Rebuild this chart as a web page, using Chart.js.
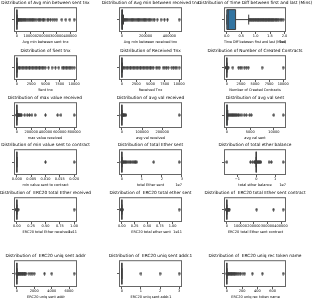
<!DOCTYPE html>
<html>
<head>
<meta charset="utf-8">
<script src="https://cdn.jsdelivr.net/npm/chart.js@4.4.1/dist/chart.umd.min.js"></script>
<style>
  html, body { margin: 0; padding: 0; background: #fff; overflow: hidden; }
  #page { position: relative; width: 312px; height: 301px; overflow: hidden; }
  #page canvas { position: absolute; }
</style>
</head>
<body>
<div id="page"></div>
<script>
// column names (title = "Distribution of " + name, x label = name)
const columns = [
  'Avg min between sent tnx', 'Avg min between received tnx', 'Time Diff between first and last (Mins)',
  'Sent tnx', 'Received Tnx', 'Number of Created Contracts',
  'max value received ', 'avg val received', 'avg val sent',
  'min value sent to contract', 'total Ether sent', 'total ether balance',
  ' ERC20 total Ether received', ' ERC20 total ether sent', ' ERC20 total Ether sent contract',
  ' ERC20 uniq sent addr', ' ERC20 uniq sent addr.1', ' ERC20 uniq rec token name'
];

// tick labels as printed, and the offset text printed next to the axis
const tickLabels = [
  ['0', '100000', '200000', '300000', '400000'], ['0', '200000', '400000'], ['0.0', '0.5', '1.0', '1.5', '2.0'],
  ['0', '2500', '5000', '7500', '10000'], ['0', '2500', '5000', '7500', '10000'], ['0', '2500', '5000', '7500', '10000'],
  ['0', '200000', '400000', '600000', '800000'], ['0', '100000', '200000'], ['0', '5000', '10000'],
  ['0.000', '0.005', '0.010', '0.015', '0.020'], ['0', '1', '2', '3'], ['\u22121', '0', '1'],
  ['0.00', '0.25', '0.50', '0.75', '1.00'], ['0.00', '0.25', '0.50', '0.75', '1.00'], ['0', '100000', '200000', '300000', '400000'],
  ['0', '2000', '4000', '6000'], ['0', '1', '2', '3'], ['0', '200', '400', '600']
];
const offsets = ['', '', '1e6', '', '', '', '', '', '', '', '1e7', '1e7', '1e11', '1e11', '', '', '', ''];

// [lower whisker, q1, median, q3, upper whisker]
const boxStats = [
  [0, 0, 17, 566, 1413], [0, 0, 509, 5480, 13700], [0, 316, 46637, 304071, 759000],
  [0, 1, 3, 11, 26], [0, 1, 8, 27, 66], [0, 0, 0, 0, 0],
  [0, 0.001, 6, 67, 168], [0, 0.43, 6, 67, 165], [0, 0.16, 13, 85, 210],
  [0, 0, 0, 0, 0], [0, 0, 0.08, 105, 262], [-0.06, 0, 0.0017, 0.04, 0.1],
  [0, 0, 0, 0, 0], [0, 0, 0, 0, 0], [0, 0, 0, 0, 0],
  [0, 0, 0, 0, 0], [0, 0, 0, 0, 0], [0, 0, 0, 0, 0]
];

// outliers
const avgMinSentFliers = [1500, 4000, 8000, 12000, 17000, 22000, 28000, 34000, 40000, 47000, 54000, 61000, 68000,
  76000, 84000, 92000, 100000, 108000, 117000, 126000, 135000, 145000, 160000, 168000, 176000, 190000, 200000,
  210000, 228000, 236000, 252000, 270000, 285000, 300000, 338000, 368000, 398000, 430288];
const avgMinReceivedFliers = [14000, 22000, 30000, 40000, 50000, 60000, 70000, 80000, 90000, 100000, 110000, 120000,
  130000, 140000, 150000, 160000, 170000, 180000, 190000, 200000, 210000, 222000, 234000, 244000, 262000, 275000,
  298000, 330000, 358000, 384000, 482175];
const timeDiffFliers = [770000, 800000, 832000, 860000, 893000, 920000, 948000, 982000, 1010000, 1043000, 1070000,
  1100000, 1128000, 1162000, 1190000, 1222000, 1250000, 1278000, 1310000, 1342000, 1370000, 1400000, 1433000,
  1460000, 1488000, 1520000, 1552000, 1580000, 1612000, 1640000, 1683000, 1720000, 1765000, 1800000, 1850000,
  1905000, 1954861];
const sentTnxFliers = [30, 200, 450, 700, 950, 1200, 1450, 1700, 1950, 2200, 2450, 2700, 2950, 3200, 3450, 3700,
  3950, 4200, 4450, 4700, 4950, 5540, 6140, 6730, 7320, 7900, 8150, 8400, 8650, 8900, 9150, 9400, 9650, 10000];
const receivedTnxFliers = [70, 250, 500, 750, 1000, 1250, 1500, 1750, 2000, 2250, 2500, 2750, 3000, 3250, 3500,
  3750, 4000, 4250, 4500, 4750, 5000, 5250, 5500, 6000, 6300, 6600, 7200, 7500, 7800, 8100, 8700, 9000, 9300,
  9600, 10000];
const createdContractsFliers = [1, 2, 4, 7, 15, 30, 60, 120, 250, 1070, 2090, 2380, 2680, 3100, 3450, 3810, 6250, 9995];
const maxValReceivedFliers = [170, 1000, 3000, 6000, 10000, 15000, 20000, 27000, 35000, 45000, 55000, 66000,
  110000, 145000, 175000, 210000, 255000, 400000, 570000, 615000, 800000];
const avgValReceivedFliers = [170, 800, 2000, 4000, 6000, 9000, 12000, 16000, 20000, 283619];
const avgValSentFliers = [220, 400, 600, 800, 1000, 1200, 1400, 1600, 1800, 2000, 2200, 2500, 2800, 3200, 3700,
  4140, 4860, 5210, 10000, 12000];
const minValSentContractFliers = [0.01, 0.02];
const totalEtherSentFliers = [300, 100000, 400000, 800000, 1300000, 1800000, 2400000, 3000000, 3600000, 4200000,
  5000000, 5600000, 6200000, 6800000, 7400000, 15900000, 28580961];
const totalEtherBalanceFliers = [-15605353, -3100000, -1900000, -1000000, -600000, -300000, -100000, 100000,
  400000, 800000, 1200000, 1600000, 2000000, 2400000, 6800000, 8000000, 14288637];
const erc20ReceivedFliers = [0.5, 100, 10000, 1e6, 1e8, 5e8, 1e9, 2e9, 1e11];
const erc20SentFliers = [0.5, 100, 1e4, 1e6, 1e8, 6e8, 1.2e9, 1.129e11];
const erc20SentContractFliers = [0.01, 1, 100, 1000, 3000, 6000, 10000, 14000, 20000, 220000, 345000, 416000];
const erc20UniqSentAddrFliers = [1, 40, 100, 160, 240, 320, 400, 480, 560, 640, 720, 800, 880, 960, 1040, 1380,
  1600, 1760, 1990, 3180, 4010, 6582];
const erc20UniqSentAddr1Fliers = [1, 2, 3];
const erc20UniqRecTokenFliers = [1, 10, 20, 30, 40, 50, 60, 70, 80, 90, 100, 115, 130, 145, 160, 180, 210, 234,
  333, 464, 737];

const fliers = [
  avgMinSentFliers, avgMinReceivedFliers, timeDiffFliers,
  sentTnxFliers, receivedTnxFliers, createdContractsFliers,
  maxValReceivedFliers, avgValReceivedFliers, avgValSentFliers,
  minValSentContractFliers, totalEtherSentFliers, totalEtherBalanceFliers,
  erc20ReceivedFliers, erc20SentFliers, erc20SentContractFliers,
  erc20UniqSentAddrFliers, erc20UniqSentAddr1Fliers, erc20UniqRecTokenFliers
];

// page layout (frame of each subplot)
const colLeft = [14, 119, 224];
const colWidth = [63, 63, 62];
const rowTop = [7, 55, 102, 149, 197, 260];
const rowHeight = [25, 25, 26, 26, 25, 27];
const SIDE = 30, TITLE_H = 7, XAXIS_H = 12;
const FONT = "'DejaVu Sans', sans-serif";
const GRAY = '#3f3f3f';

// thin diamond marker like seaborn's 'd'
const diamond = document.createElement('canvas');
diamond.width = 3; diamond.height = 4;
const dctx = diamond.getContext('2d');
dctx.fillStyle = GRAY;
dctx.beginPath();
dctx.moveTo(1.5, 0.1); dctx.lineTo(2.9, 2); dctx.lineTo(1.5, 3.9); dctx.lineTo(0.1, 2);
dctx.closePath(); dctx.fill();

const boxPlugin = {
  id: 'boxplot',
  beforeDatasetsDraw(chart, args, opts) {
    const { ctx, scales: { x, y } } = chart;
    const [lo, q1, med, q3, hi] = opts.stats;
    const px = v => x.getPixelForValue(v);
    const yc = y.getPixelForValue(0);
    const half = Math.abs(y.getPixelForValue(0.4) - yc);
    const cap = half / 2;
    ctx.save();
    ctx.strokeStyle = GRAY;
    ctx.lineWidth = 1;
    ctx.beginPath();
    ctx.moveTo(px(lo), yc); ctx.lineTo(px(q1), yc);
    ctx.moveTo(px(q3), yc); ctx.lineTo(px(hi), yc);
    ctx.moveTo(px(lo), yc - cap); ctx.lineTo(px(lo), yc + cap);
    ctx.moveTo(px(hi), yc - cap); ctx.lineTo(px(hi), yc + cap);
    ctx.stroke();
    ctx.fillStyle = '#3274a1';
    ctx.beginPath();
    ctx.rect(px(q1), yc - half, px(q3) - px(q1), 2 * half);
    ctx.fill();
    ctx.stroke();
    ctx.beginPath();
    ctx.moveTo(px(med), yc - half); ctx.lineTo(px(med), yc + half);
    ctx.stroke();
    ctx.restore();
  },
  afterDraw(chart, args, opts) {
    const { ctx, chartArea: a, scales: { x } } = chart;
    ctx.save();
    ctx.strokeStyle = '#666';
    ctx.lineWidth = 1;
    ctx.strokeRect(a.left + 0.5, a.top + 0.5, a.width - 1, a.height - 1);
    if (opts.offset) {
      ctx.fillStyle = '#000';
      ctx.font = '3.5px ' + FONT;
      ctx.textAlign = 'right';
      ctx.textBaseline = 'middle';
      ctx.fillText(opts.offset, a.right, x.bottom - 2.1);
    }
    ctx.restore();
  }
};
Chart.register(boxPlugin);

const page = document.getElementById('page');

columns.forEach((name, i) => {
  const r = Math.floor(i / 3), c = i % 3;
  const mult = offsets[i] ? Number(offsets[i]) : 1;
  const labels = tickLabels[i];
  const tickVals = labels.map(t => parseFloat(t.replace('\u2212', '-')) * mult);
  const all = boxStats[i].concat(fliers[i]);
  const lo = Math.min(...all), hi = Math.max(...all);
  const span = (hi - lo) || 1;

  const canvas = document.createElement('canvas');
  const w = SIDE * 2 + colWidth[c];
  const h = TITLE_H + rowHeight[r] + XAXIS_H;
  canvas.width = w; canvas.height = h;
  canvas.style.width = w + 'px'; canvas.style.height = h + 'px';
  canvas.style.left = (colLeft[c] - SIDE) + 'px';
  canvas.style.top = (rowTop[r] - TITLE_H) + 'px';
  page.appendChild(canvas);

  new Chart(canvas, {
    type: 'scatter',
    data: {
      datasets: [{
        data: fliers[i].map(v => ({ x: v, y: 0 })),
        pointStyle: diamond,
        pointRadius: 2
      }]
    },
    options: {
      responsive: false,
      animation: false,
      devicePixelRatio: 1,
      events: [],
      plugins: {
        legend: { display: false },
        tooltip: { enabled: false },
        title: {
          display: true,
          text: 'Distribution of ' + name,
          color: '#000',
          font: { family: FONT, size: 4.3, weight: 'normal', lineHeight: 1 },
          padding: { top: 0.4, bottom: 2.3 }
        },
        boxplot: { stats: boxStats[i], offset: offsets[i] }
      },
      scales: {
        x: {
          type: 'linear',
          min: lo - 0.05 * span,
          max: hi + 0.05 * span,
          afterBuildTicks: s => { s.ticks = tickVals.map(v => ({ value: v })); },
          afterFit: s => { s.height = XAXIS_H; },
          ticks: {
            autoSkip: false, maxRotation: 0, minRotation: 0, padding: 0,
            color: '#000', font: { family: FONT, size: 3.5 },
            callback: (v, k) => labels[k]
          },
          grid: { drawOnChartArea: false, drawTicks: true, tickLength: 2, color: '#333', lineWidth: 0.8 },
          border: { display: false },
          title: { display: true, text: name, color: '#000', font: { family: FONT, size: 3.5, lineHeight: 1.2 }, padding: 0 }
        },
        y: {
          type: 'linear',
          min: -0.5, max: 0.5,
          afterBuildTicks: s => { s.ticks = [{ value: 0 }]; },
          afterFit: s => { s.width = SIDE; },
          ticks: { callback: () => '', padding: 0 },
          grid: { drawOnChartArea: false, drawTicks: true, tickLength: 2, color: '#333', lineWidth: 0.8 },
          border: { display: false }
        },
        yR: {
          type: 'linear', position: 'right', display: true,
          min: -0.5, max: 0.5,
          afterFit: s => { s.width = SIDE; },
          ticks: { display: false },
          grid: { display: false },
          border: { display: false }
        }
      }
    }
  });
});
</script>
</body>
</html>
